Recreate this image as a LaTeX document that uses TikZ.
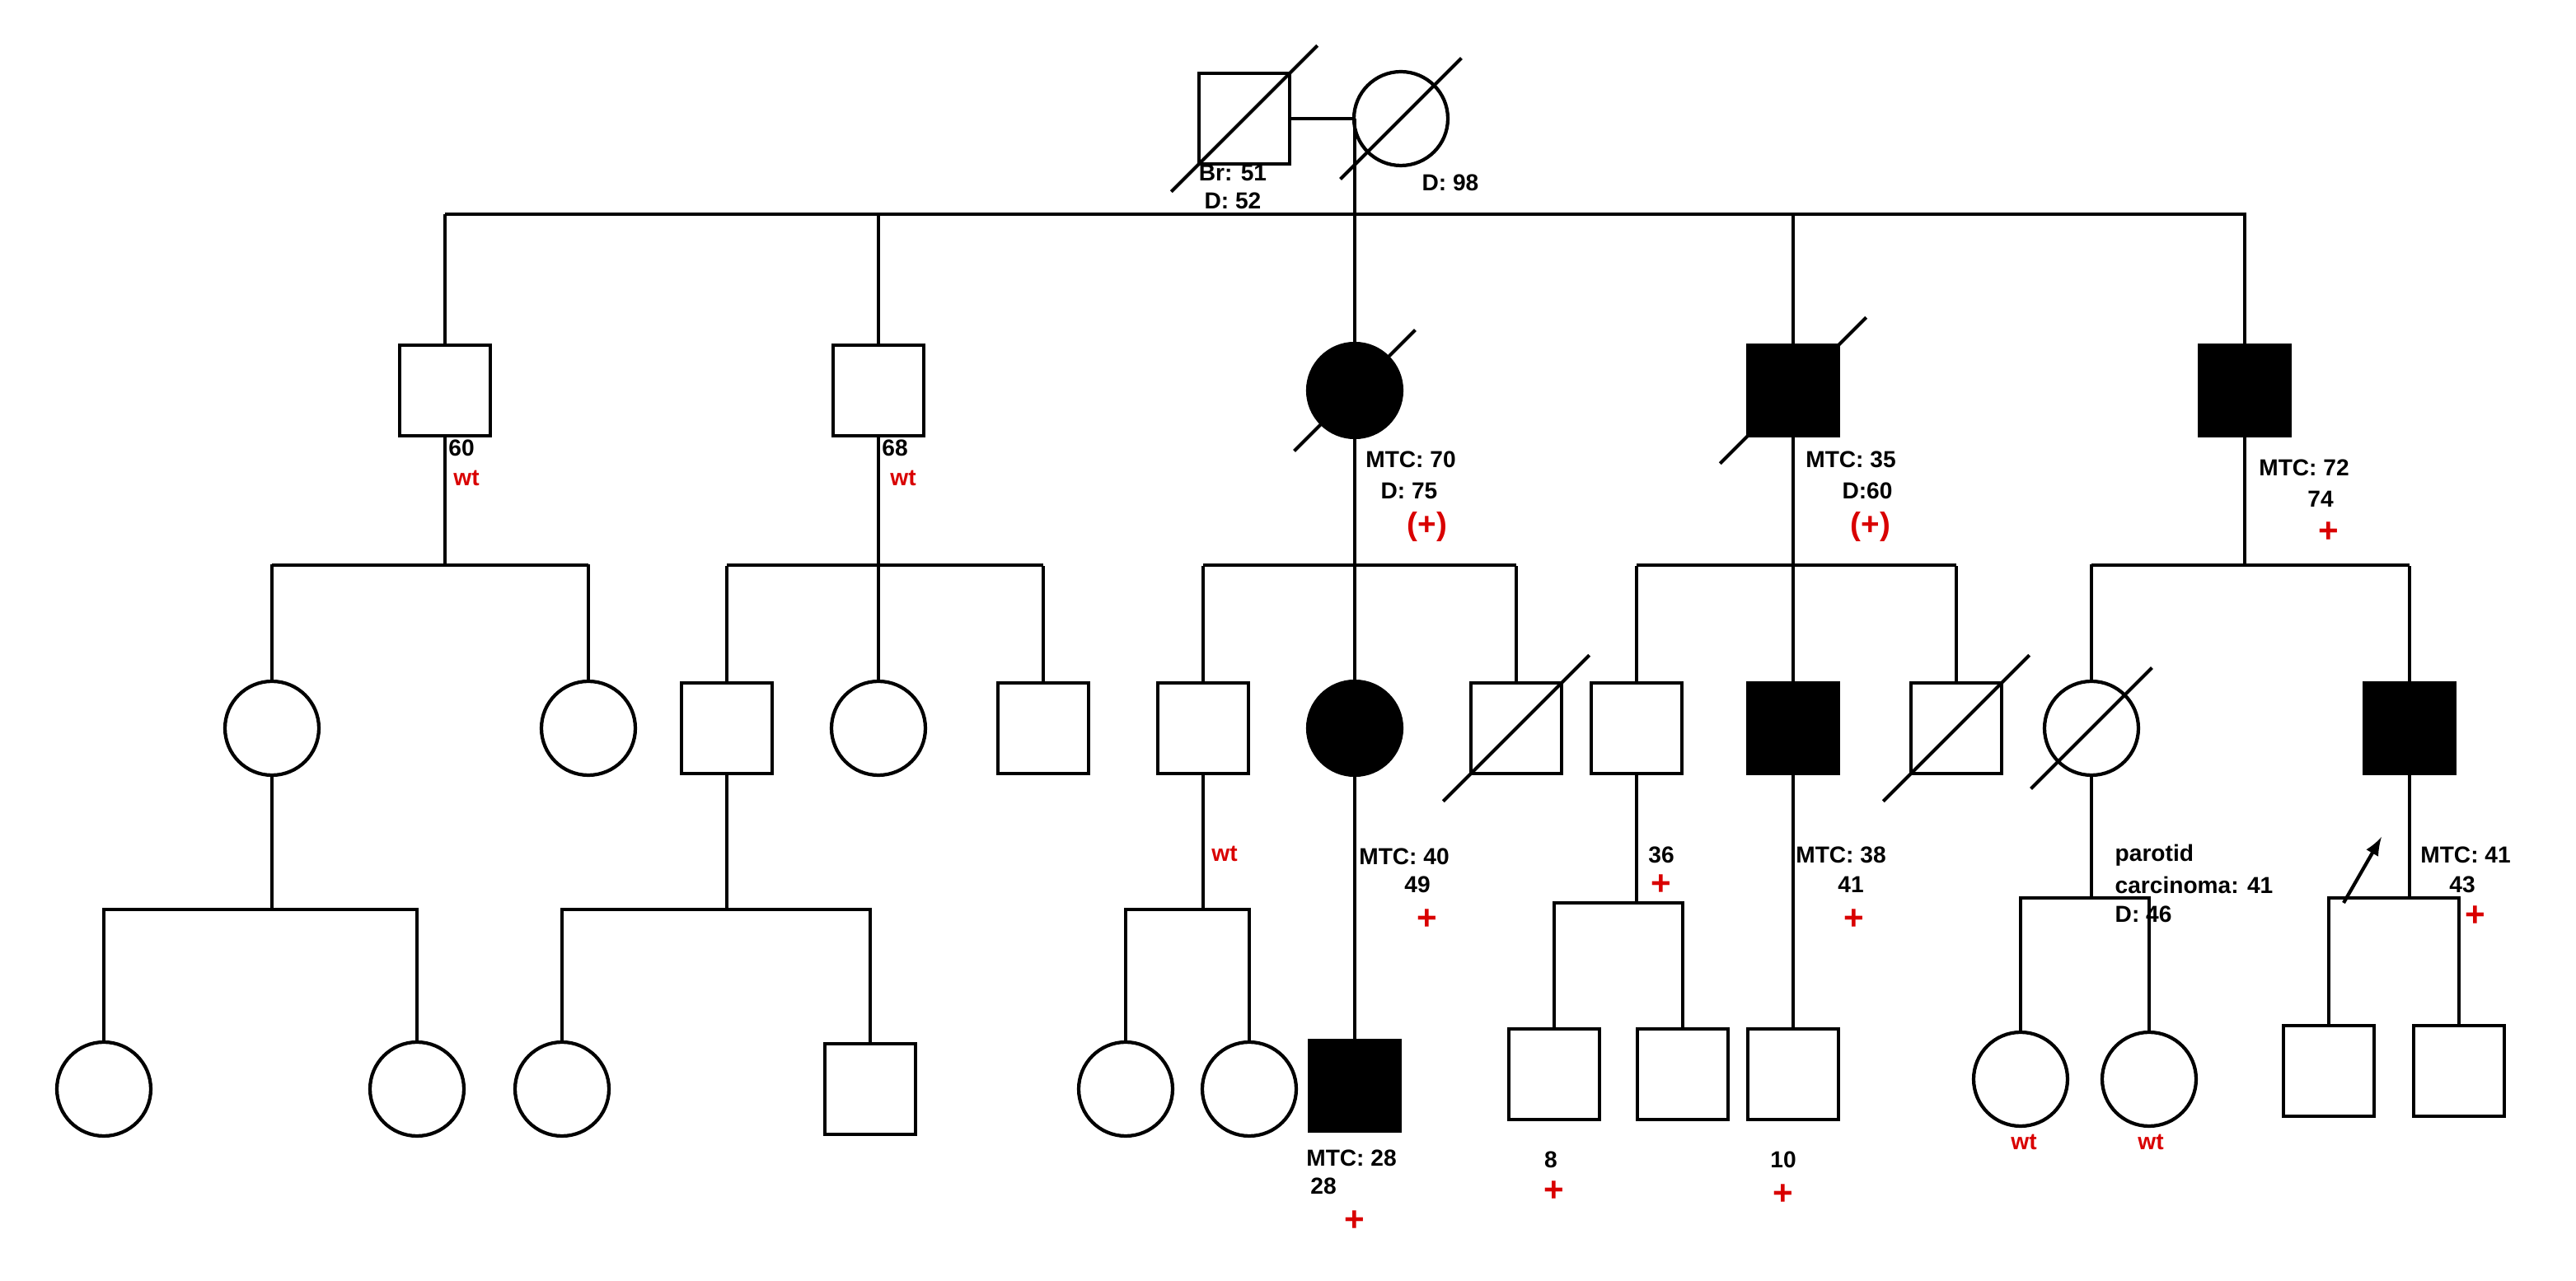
\documentclass[tikz,border=0pt]{standalone}
\usepackage{fontspec}
\setmainfont{Liberation Sans}
\usetikzlibrary{positioning}

\tikzset{
  male/.style={draw,line width=1.2pt,rectangle,minimum size=1.1cm,inner sep=0pt},
  female/.style={draw,line width=1.2pt,circle,minimum size=1.14cm,inner sep=0pt},
  aff/.style={fill=black},
  lbl/.style={font=\fontsize{8}{9}\selectfont\bfseries,inner sep=0pt},
  mut/.style={lbl,text=red!85!black},
  plus/.style={mut,font=\fontsize{12}{12}\selectfont\bfseries},
  line/.style={line width=1.2pt}
}
\newcommand{\dead}[1]{\draw[line] ([shift={(-9pt,-9pt)}]#1.south west) -- ([shift={(9pt,9pt)}]#1.north east);}

\begin{document}
\begin{tikzpicture}[x=0.02cm,y=-0.02cm]
\useasboundingbox (0,0) rectangle (1563,777.5);

% generation I
\node[male] (gf) at (755,72) {};
\node[female] (gm) at (850,72) {};
\dead{gf} \dead{gm}
\coordinate (c0) at (822,72);
\coordinate (s0) at (822,130);
\draw[line] (gf) -- (gm);
\draw[line] (c0) -- (s0);
\draw[line] (270,130) -- (1363,130);
\node[lbl] at (748,105) {Br: 51};
\node[lbl] at (748,122) {D: 52};
\node[lbl] at (880,111) {D: 98};

% generation II
\node[male] (a) at (270,237) {};
\node[male] (b) at (533,237) {};
\node[female,aff] (c) at (822,237) {};
\node[male,aff] (d) at (1088,237) {};
\node[male,aff] (e) at (1362,237) {};
\dead{c} \dead{d}
\foreach \n in {a,b,c,d,e}{
  \draw[line] (\n.north) -- (\n.north |- s0);
  \draw[line] (\n.south) -- ++(0,78);
}
\node[lbl] at (280,272) {60};
\node[mut] at (283,290) {wt};
\node[lbl] at (543,272) {68};
\node[mut] at (548,290) {wt};
\node[lbl] at (856,279) {MTC: 70};
\node[lbl] at (855,298) {D: 75};
\node[mut,font=\fontsize{11}{12}\selectfont\bfseries] at (866,320) {(+)};
\node[lbl] at (1123,279) {MTC: 35};
\node[lbl] at (1133,298) {D:60};
\node[mut,font=\fontsize{11}{12}\selectfont\bfseries] at (1135,320) {(+)};
\node[lbl] at (1398,284) {MTC: 72};
\node[lbl] at (1408,303) {74};
\node[plus] at (1413,323) {+};

% generation III
\node[female] (a1) at (165,442) {};
\node[female] (a2) at (357,442) {};
\node[male] (b1) at (441,442) {};
\node[female] (b2) at (533,442) {};
\node[male] (b3) at (633,442) {};
\node[male] (c1) at (730,442) {};
\node[female,aff] (c2) at (822,442) {};
\node[male] (c3) at (920,442) {};
\node[male] (d1) at (993,442) {};
\node[male,aff] (d2) at (1088,442) {};
\node[male] (d3) at (1187,442) {};
\node[female] (e1) at (1269,442) {};
\node[male,aff] (e2) at (1462,442) {};
\dead{c3} \dead{d3} \dead{e1}
\draw[line] (165,343) -- (357,343);
\draw[line] (441,343) -- (633,343);
\draw[line] (730,343) -- (920,343);
\draw[line] (993,343) -- (1187,343);
\draw[line] (1269,343) -- (1462,343);
\foreach \n in {a1,a2,b1,b2,b3,c1,c2,c3,d1,d2,d3,e1,e2}
  \draw[line] (\n.north) -- ++(0,-70);
\node[mut] at (743,518) {wt};
\node[lbl] at (852,520) {MTC: 40};
\node[lbl] at (860,537) {49};
\node[plus] at (866,558) {+};
\node[lbl] at (1008,519) {36};
\node[plus] at (1008,537) {+};
\node[lbl] at (1117,519) {MTC: 38};
\node[lbl] at (1123,537) {41};
\node[plus] at (1125,558) {+};
\node[lbl,anchor=west] at (1283,519) {parotid};
\node[lbl,anchor=west] at (1283,537) {carcinoma: 41};
\node[lbl,anchor=west] at (1283,555) {D: 46};
\node[lbl] at (1496,519) {MTC: 41};
\node[lbl] at (1494,537) {43};
\node[plus] at (1502,556) {+};
\coordinate (pr) at (1422,548);
\draw[line,-latex] (pr) -- (1445,508);

% generation IV
\node[female] (a11) at (63,661) {};
\node[female] (a12) at (253,661) {};
\node[female] (b11) at (341,661) {};
\node[male] (b12) at (528,661) {};
\node[female] (c11) at (683,661) {};
\node[female] (c12) at (758,661) {};
\node[male,aff] (c21) at (822,659) {};
\node[male] (d11) at (943,652) {};
\node[male] (d12) at (1021,652) {};
\node[male] (d21) at (1088,652) {};
\node[female] (e11) at (1226,655) {};
\node[female] (e12) at (1304,655) {};
\node[male] (e21) at (1413,650) {};
\node[male] (e22) at (1492,650) {};
\draw[line] (a1.south) -- (165,552);
\draw[line] (a11.north) |- (a12.north |- 0,552) -- (a12.north);
\draw[line] (b1.south) -- (441,552);
\draw[line] (b11.north) |- (b12.north |- 0,552) -- (b12.north);
\draw[line] (c1.south) -- (730,552);
\draw[line] (c11.north) |- (c12.north |- 0,552) -- (c12.north);
\draw[line] (c2.south) -- (c21.north);
\draw[line] (d1.south) -- (993,548);
\draw[line] (d11.north) |- (d12.north |- 0,548) -- (d12.north);
\draw[line] (d2.south) -- (d21.north);
\draw[line] (e1.south) -- (1269,545);
\draw[line] (e11.north) |- (e12.north |- 0,545) -- (e12.north);
\draw[line] (e2.south) -- (1462,545);
\draw[line] (e21.north) |- (e22.north |- 0,545) -- (e22.north);
\node[lbl] at (820,703) {MTC: 28};
\node[lbl] at (803,720) {28};
\node[plus] at (822,741) {+};
\node[lbl] at (941,704) {8};
\node[plus] at (943,723) {+};
\node[lbl] at (1082,704) {10};
\node[plus] at (1082,725) {+};
\node[mut] at (1228,693) {wt};
\node[mut] at (1305,693) {wt};
\end{tikzpicture}
\end{document}
